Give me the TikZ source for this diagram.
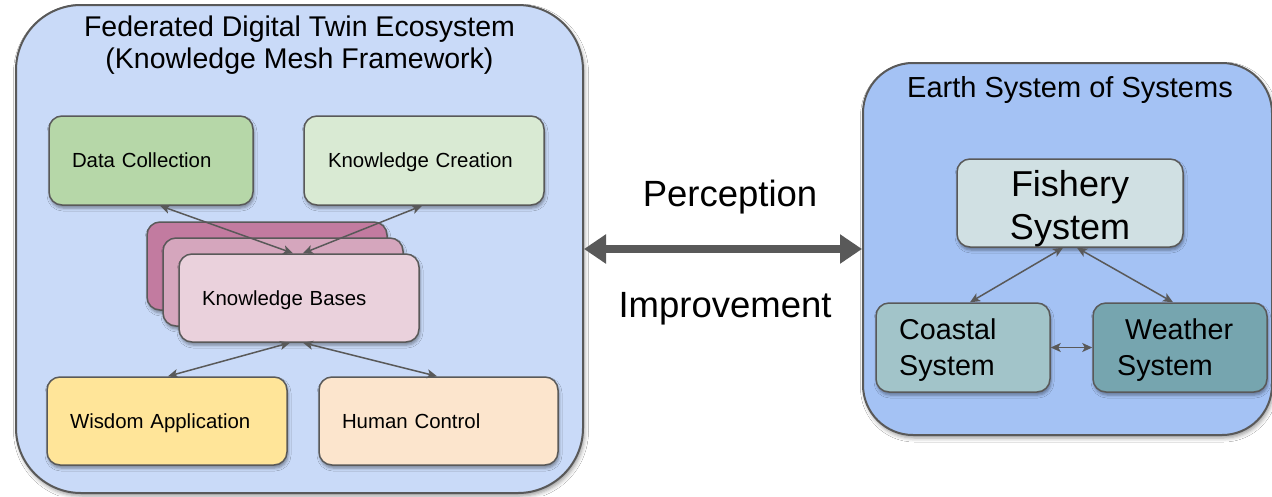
\documentclass[tikz,border=0pt]{standalone}
\usepackage{fontspec}
\setmainfont{Liberation Sans}
\usetikzlibrary{arrows.meta,shadows.blur,calc}
\definecolor{lc}{HTML}{595959}
\definecolor{leftbg}{HTML}{C9DAF8}
\definecolor{rightbg}{HTML}{A4C2F4}
\definecolor{dcc}{HTML}{B6D7A8}
\definecolor{kcc}{HTML}{D9EAD3}
\definecolor{kbone}{HTML}{C27BA0}
\definecolor{kbtwo}{HTML}{D5A6BD}
\definecolor{kbthree}{HTML}{EAD1DC}
\definecolor{wisc}{HTML}{FFE599}
\definecolor{humc}{HTML}{FCE5CD}
\definecolor{fishc}{HTML}{D0E0E3}
\definecolor{coastc}{HTML}{A2C4C9}
\definecolor{weathc}{HTML}{76A5AF}
\newcommand\myfs[2]{\fontsize{#1pt}{#2pt}\selectfont}
\newcommand\mlines[2]{\begin{tabular}[t]{@{}#1@{}}#2\end{tabular}}
\begin{document}
\begin{tikzpicture}[x=1pt,y=-1pt,
  outerbox/.style={draw=lc, line width=2pt, inner sep=0pt,
    blur shadow={shadow xshift=1.5pt, shadow yshift=-3pt, shadow blur radius=4pt, shadow opacity=40}},
  box/.style={draw=lc, line width=1.5pt, rounded corners=13pt, inner ysep=0pt,
    blur shadow={shadow xshift=1pt, shadow yshift=-3pt, shadow blur radius=3pt, shadow opacity=40}},
  lbl/.style={font=\myfs{20.4}{24}, text height=14.6pt, text depth=0pt, align=left},
  txt/.style={inner sep=0pt, text=black},
  conn/.style={draw=lc, line width=1.5pt, {Stealth[length=10pt,width=9pt,inset=2.5pt]}-{Stealth[length=10pt,width=9pt,inset=2.5pt]}},
  bigconn/.style={draw=lc, line width=8pt, {Triangle[length=22pt,width=28pt]}-{Triangle[length=22pt,width=28pt]}}
]
\fill[white] (0,0) rectangle (1272,496);
\useasboundingbox (0,0) rectangle (1272,496);

% outer containers
\node[outerbox, fill=leftbg, rounded corners=65pt, minimum width=567pt, minimum height=488pt] (left) at (299.5,249) {};
\node[outerbox, fill=rightbg, rounded corners=50pt, minimum width=409pt, minimum height=372pt] (right) at (1067.5,249) {};

% titles
\node[txt, anchor=base, font=\myfs{28.5}{32}] (lefttitle) at (299.5,36)
  {\mlines{c}{Federated Digital Twin Ecosystem\\(Knowledge Mesh Framework)}};
\node[txt, anchor=base, font=\myfs{29}{34}] (righttitle) at (1070,97) {Earth System of Systems};

% left boxes
\node[box, lbl, fill=dcc, minimum width=204pt, minimum height=89pt, text width=158pt, inner xsep=23pt] (dc) at (151,160.5) {Data Collection};
\node[box, lbl, fill=kcc, minimum width=240pt, minimum height=89pt, text width=192pt, inner xsep=24pt] (kc) at (424,160.5) {Knowledge Creation};

\node[box, fill=kbone, minimum width=240pt, minimum height=88pt] (kba) at (267,266) {};
\node[box, fill=kbtwo, minimum width=240pt, minimum height=88pt] (kbb) at (283,282) {};
\node[box, lbl, fill=kbthree, minimum width=240pt, minimum height=88pt, text width=194pt, inner xsep=23pt] (kb) at (299,298) {Knowledge Bases};

\node[box, lbl, fill=wisc, minimum width=240pt, minimum height=88pt, text width=194pt, inner xsep=23pt] (wis) at (167,421) {Wisdom Application};
\node[box, lbl, fill=humc, minimum width=239pt, minimum height=88pt, text width=193pt, inner xsep=23pt] (hum) at (438.5,421) {Human Control};

% right boxes
\node[box, fill=fishc, minimum width=226pt, minimum height=88pt] (fish) at (1070,203) {};
\node[box, fill=coastc, minimum width=174pt, minimum height=89pt] (coast) at (963,347.5) {};
\node[box, fill=weathc, minimum width=174pt, minimum height=89pt] (weath) at (1180,347.5) {};

\node[txt, anchor=base, font=\myfs{36}{43}] (fishtext) at (1070,196) {\mlines{c}{Fishery\\System}};
\node[txt, anchor=base west, font=\myfs{28.7}{36}] (coasttext) at (899,339) {\mlines{l}{Coastal\\System}};
\node[txt, anchor=base west, font=\myfs{28.7}{36}] (weathtext) at (1117,339) {\mlines{l}{\hspace*{8pt}Weather\\System}};

% middle labels
\node[txt, anchor=base, font=\myfs{36.5}{42}] (perc) at (730,206) {Perception};
\node[txt, anchor=base, font=\myfs{36.5}{42}] (impr) at (725,317) {Improvement};

% connectors
\draw[conn] ([xshift=9pt]dc.south) -- ([xshift=-6pt]kb.north);
\draw[conn] ([xshift=-2pt]kc.south) -- ([xshift=4pt]kb.north);
\draw[conn] ([xshift=-9pt]kb.south) -- ([xshift=1pt]wis.north);
\draw[conn] ([xshift=4pt]kb.south) -- ([xshift=-1.5pt]hum.north);

\draw[conn] ([xshift=-7pt]fish.south) -- ([xshift=7pt]coast.north);
\draw[conn] ([xshift=7pt]fish.south) -- ([xshift=-7pt]weath.north);
\draw[conn] (coast.east) -- (weath.west);

\draw[bigconn] (left.east) -- (right.west);
\end{tikzpicture}
\end{document}
